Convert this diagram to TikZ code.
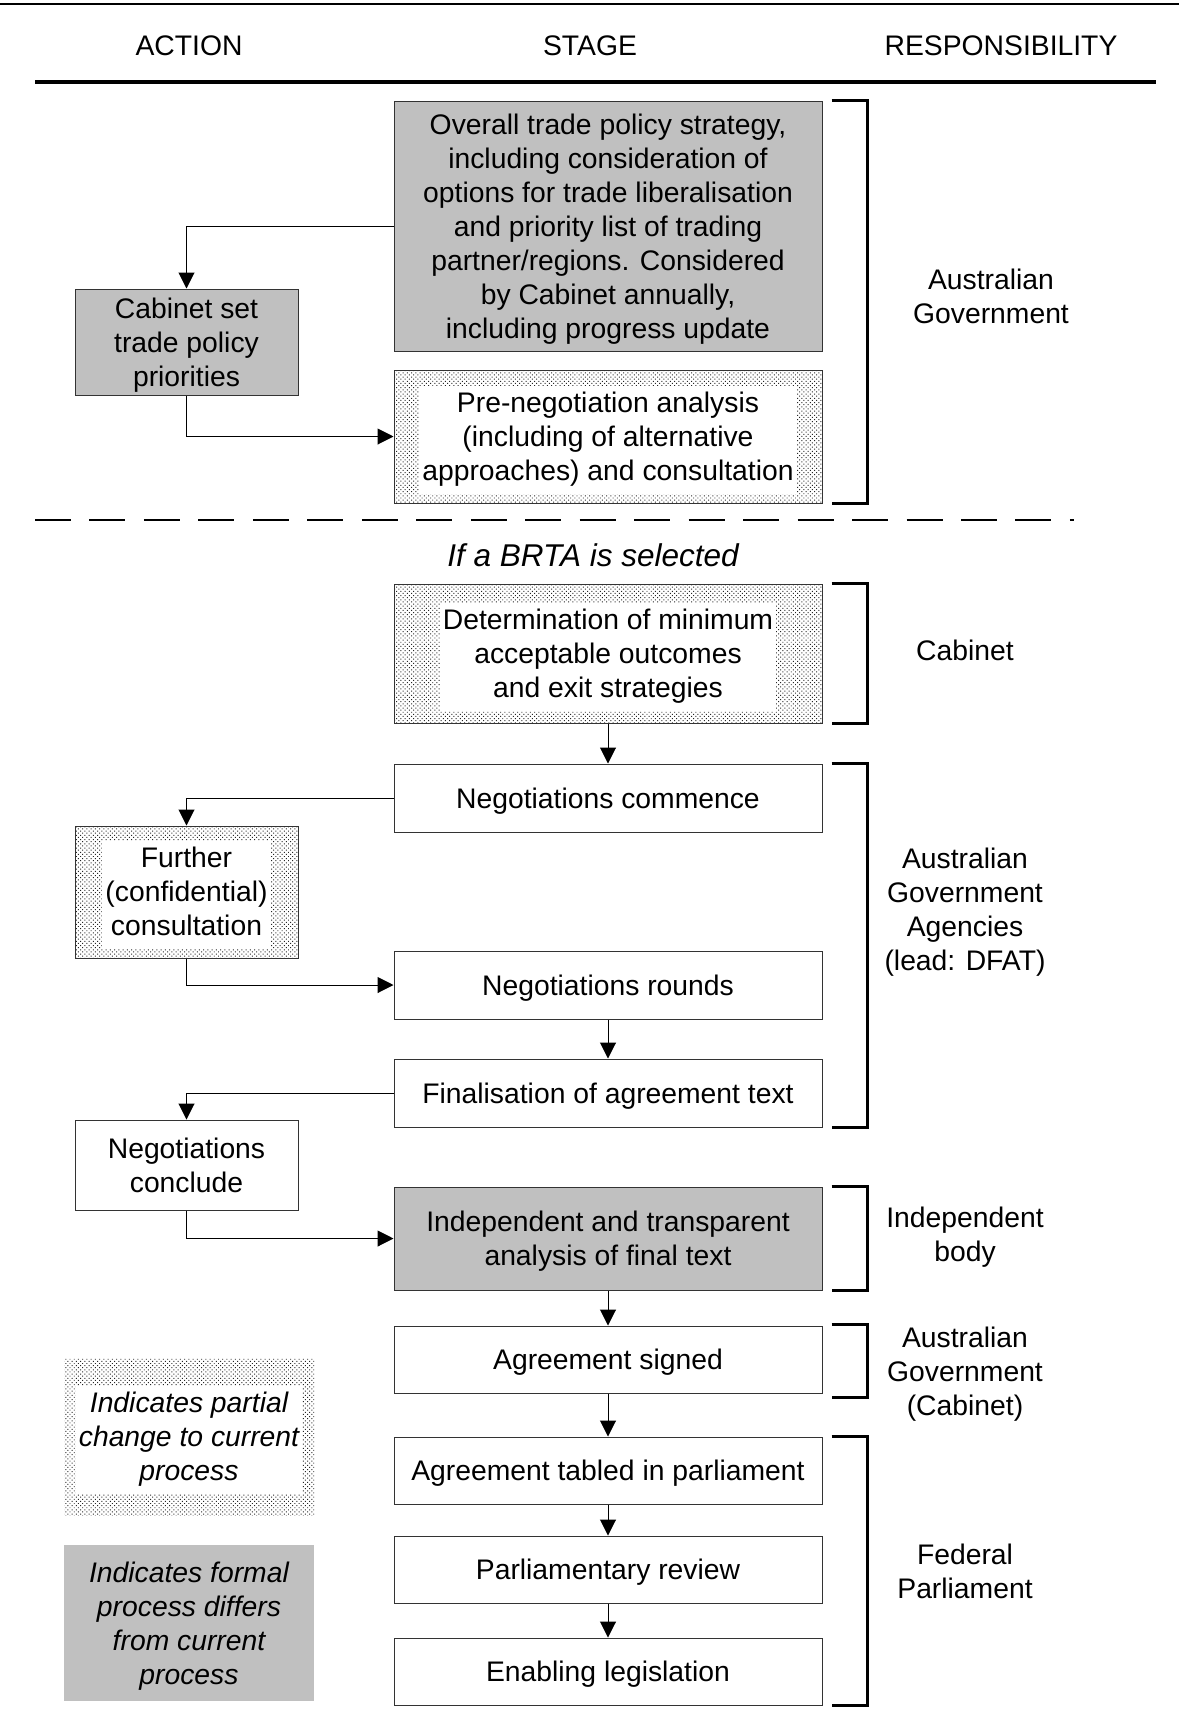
\documentclass[tikz,border=0pt]{standalone}
\usepackage{fontspec}
\setmainfont{Liberation Sans}
\usepackage{tikz}
\usepackage{xcolor}
\usetikzlibrary{arrows.meta, calc, patterns.meta, positioning}
\definecolor{formalgray}{HTML}{C0C0C0}
\newcommand{\boxfont}{\fontsize{28.3}{34}\selectfont}
\newcommand{\whitebox}[1]{{\setlength{\fboxsep}{3pt}\raisebox{-3pt}[\height][\depth]{\colorbox{white}{\begin{tabular}{@{}c@{}}#1\end{tabular}}}}}

\begin{document}
\begin{tikzpicture}[x=1pt, y=-1pt, line width=1pt,
            stage/.style={draw=black!80, line width=1pt, minimum width=428pt, minimum height=68pt, inner sep=0pt, text depth=0pt, align=center, font=\boxfont},
            action/.style={stage, minimum width=223pt},
            formal/.style={fill=formalgray},
            partial/.style={pattern={Dots[angle=45, distance=3pt, radius=0.7pt]}, pattern color=black!85, text depth=},
            legend/.style={stage, draw=none, minimum width=250pt, font=\boxfont\itshape},
            link/.style={-{Triangle[length=16pt, width=16pt]}, line width=1pt},
            bracket/.style={line width=2.2pt},
            resp/.style={align=center, font=\boxfont}]
            \useasboundingbox (0,0) rectangle (1179,1722);
            \draw[line width=2.5pt] (0,4) -- (1179,4);
            \draw[line width=4pt] (35,82) -- (1156,82);
            \node[font=\boxfont] (hdAction) at (189,46) {ACTION};
            \node[font=\boxfont] (hdStage) at (590,46) {STAGE};
            \node[font=\boxfont] (hdResp) at (1001,46) {RESPONSIBILITY};

            \node[stage, formal, minimum height=250pt] (strategy) at (608,226) {Overall trade policy strategy,\\including consideration of\\options for trade liberalisation\\and priority list of trading\\partner/regions. Considered\\by Cabinet annually,\\including progress update};
            \node[action, formal, minimum height=106pt] (cabinet) at (186.5,342) {Cabinet set\\trade policy\\priorities};
            \node[stage, partial, minimum height=133pt] (prenego) at (608,436.5) {\whitebox{Pre-negotiation analysis\\(including of alternative\\approaches) and consultation}};

            \draw[line width=2pt, dash pattern=on 36pt off 18.47pt] (35,520) -- (1074,520);
            \node[font=\fontsize{31.5}{37}\selectfont\itshape] (brta) at (593,555) {If a BRTA is selected};

            \node[stage, partial, minimum height=139pt] (determ) at (608,653.5) {\whitebox{Determination of minimum\\acceptable outcomes\\and exit strategies}};
            \node[stage] (commence) at (608,798) {Negotiations commence};
            \node[action, partial, minimum height=132pt] (further) at (186.5,892) {\whitebox{Further\\(confidential)\\consultation}};
            \node[stage] (rounds) at (608,985) {Negotiations rounds};
            \node[stage] (final) at (608,1093) {Finalisation of agreement text};
            \node[action, minimum height=90pt] (conclude) at (186.5,1165) {Negotiations\\conclude};
            \node[stage, formal, minimum height=103pt] (indep) at (608,1238.5) {Independent and transparent\\analysis of final text};
            \node[stage, minimum height=67pt] (signed) at (608,1359.5) {Agreement signed};
            \node[stage, minimum height=67pt] (tabled) at (608,1470.5) {Agreement tabled in parliament};
            \node[stage, minimum height=67pt] (review) at (608,1569.5) {Parliamentary review};
            \node[stage, minimum height=67pt] (enabling) at (608,1671.5) {Enabling legislation};

            \node[legend, partial, minimum height=157pt] (keyPartial) at (189,1437) {\whitebox{Indicates partial\\change to current\\process}};
            \node[legend, formal, minimum height=156pt] (keyFormal) at (189,1623) {Indicates formal\\process differs\\from current\\process};

            \draw[link] (strategy.west) -| (cabinet.north);
            \draw[link] (cabinet.south) |- (prenego.west);
            \draw[link] (determ.south) -- (commence.north);
            \draw[link] (commence.west) -| (further.north);
            \draw[link] (further.south) |- (rounds.west);
            \draw[link] (rounds.south) -- (final.north);
            \draw[link] (final.west) -| (conclude.north);
            \draw[link] (conclude.south) |- (indep.west);
            \draw[link] (indep.south) -- (signed.north);
            \draw[link] (signed.south) -- (tabled.north);
            \draw[link] (tabled.south) -- (review.north);
            \draw[link] (review.south) -- (enabling.north);

            \draw[bracket] ([xshift=9pt]strategy.north east) -- ++(36,0) |- ([xshift=9pt]prenego.south east);
            \draw[bracket] ([xshift=9pt]determ.north east) -- ++(36,0) |- ([xshift=9pt]determ.south east);
            \draw[bracket] ([xshift=9pt]commence.north east) -- ++(36,0) |- ([xshift=9pt]final.south east);
            \draw[bracket] ([xshift=9pt]indep.north east) -- ++(36,0) |- ([xshift=9pt]indep.south east);
            \draw[bracket] ([xshift=9pt,yshift=1pt]signed.north east) -- ++(36,0) |- ([xshift=9pt,yshift=-4pt]signed.south east);
            \draw[bracket] ([xshift=9pt]tabled.north east) -- ++(36,0) |- ([xshift=9pt]enabling.south east);

            \node[resp] (respGov) at (991,296) {Australian\\Government};
            \node[resp] (respCabinet) at (965,650) {Cabinet};
            \node[resp] (respAgencies) at (965,912) {Australian\\Government\\Agencies\\(lead: DFAT)};
            \node[resp] (respBody) at (965,1237) {Independent\\body};
            \node[resp] (respSigned) at (965,1374) {Australian\\Government\\(Cabinet)};
            \node[resp] (respParl) at (965,1571) {Federal\\Parliament};
\end{tikzpicture}
\end{document}
